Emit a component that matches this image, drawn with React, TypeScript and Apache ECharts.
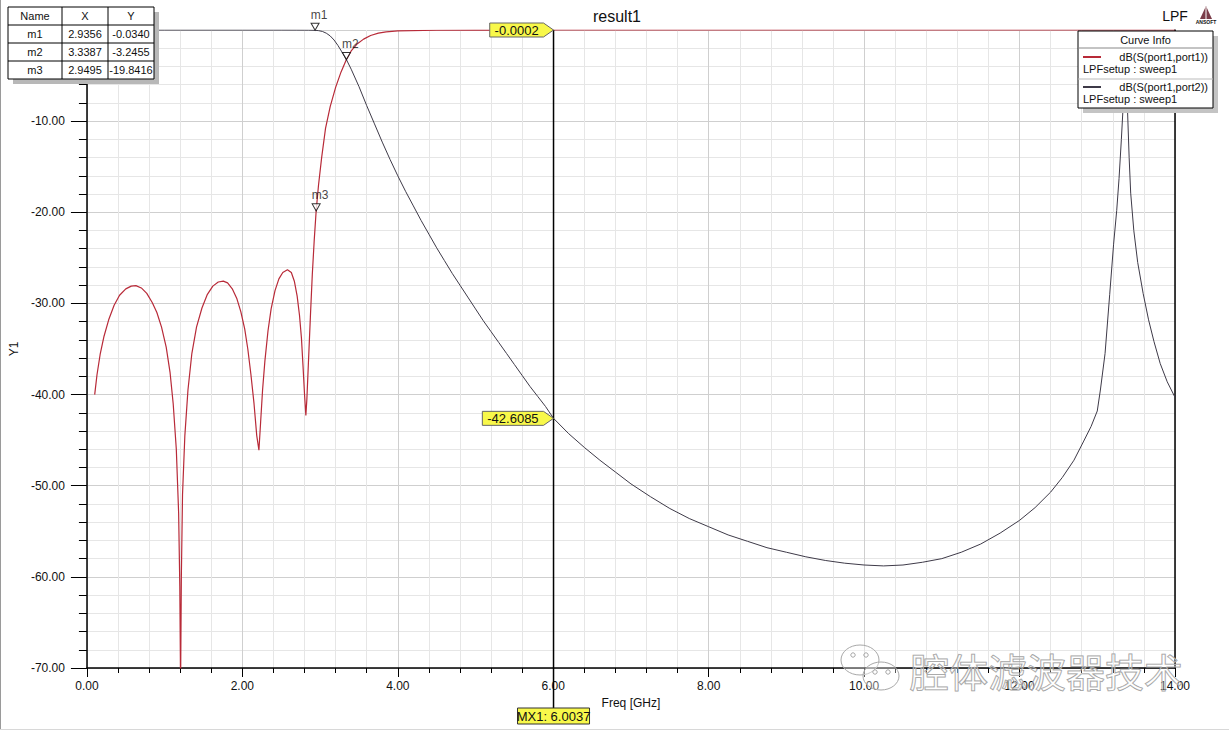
import React, { useEffect, useRef } from 'react';
import * as echarts from 'echarts';

// ---------- data ----------
const s11Freq = [0.1, 0.13, 0.17, 0.22, 0.28, 0.35, 0.42, 0.5, 0.57, 0.63, 0.7, 0.77, 0.84, 0.9, 0.96, 1.02, 1.07, 1.11, 1.15, 1.18, 1.195, 1.205, 1.215, 1.23, 1.26, 1.3, 1.35, 1.41, 1.48, 1.55, 1.62, 1.69, 1.755, 1.81, 1.87, 1.93, 1.98, 2.03, 2.07, 2.11, 2.15, 2.185, 2.213, 2.235, 2.26, 2.29, 2.33, 2.37, 2.42, 2.47, 2.52, 2.58, 2.63, 2.67, 2.705, 2.735, 2.76, 2.78, 2.8, 2.817, 2.83, 2.85, 2.875, 2.9, 2.925, 2.9495, 2.98, 3.02, 3.07, 3.13, 3.2, 3.27, 3.3387, 3.4, 3.48, 3.56, 3.65, 3.75, 3.85, 4.0, 4.5, 5.0, 6.0037, 8.0, 10.0, 12.0, 14.0];
const s11Db = [-40.0, -37.8, -35.6, -33.6, -31.8, -30.2, -29.1, -28.4, -28.1, -28.05, -28.3, -28.9, -29.9, -31.0, -32.6, -34.8, -37.6, -41.0, -46.0, -53.0, -61.0, -72.0, -60.0, -51.0, -44.5, -39.5, -35.5, -32.6, -30.5, -29.0, -28.1, -27.65, -27.55, -27.75, -28.4, -29.5, -30.9, -32.8, -35.0, -37.8, -41.0, -44.5, -46.1, -43.0, -39.5, -36.3, -33.0, -30.6, -28.6, -27.3, -26.6, -26.3, -26.6, -27.6, -29.2, -31.3, -33.8, -36.8, -40.0, -42.3, -40.5, -36.5, -31.5, -26.8, -23.0, -19.8416, -17.0, -14.0, -10.8, -8.4, -6.3, -4.6, -3.2455, -2.3, -1.5, -1.0, -0.6, -0.35, -0.2, -0.1, -0.03, -0.01, -0.0002, 0.0, 0.0, 0.0, 0.0];

const s21Freq = [0.1, 1.0, 2.0, 2.5, 2.7, 2.85, 2.9356, 2.98, 3.03, 3.08, 3.13, 3.18, 3.23, 3.28, 3.3387, 3.4, 3.5, 3.6, 3.7, 3.8, 3.9, 4.0, 4.1, 4.2, 4.3, 4.4, 4.5, 4.6, 4.7, 4.8, 4.9, 5.0, 5.1, 5.2, 5.3, 5.4, 5.5, 5.6, 5.7, 5.8, 5.9, 6.0037, 6.2, 6.4, 6.6, 6.8, 7.0, 7.25, 7.5, 7.75, 8.0, 8.25, 8.5, 8.75, 9.0, 9.25, 9.5, 9.75, 10.0, 10.25, 10.5, 10.75, 11.0, 11.25, 11.5, 11.75, 12.0, 12.2, 12.4, 12.55, 12.7, 12.82, 12.92, 13.0, 13.04, 13.1, 13.16, 13.21, 13.25, 13.28, 13.31, 13.33, 13.345, 13.355, 13.362, 13.37, 13.38, 13.39, 13.41, 13.43, 13.47, 13.52, 13.59, 13.66, 13.73, 13.81, 13.9, 14.0];
const s21Db = [-0.001, -0.002, -0.003, -0.005, -0.008, -0.015, -0.034, -0.07, -0.16, -0.35, -0.65, -1.1, -1.7, -2.4, -3.2455, -4.3, -6.2, -8.3, -10.3, -12.3, -14.2, -16.0, -17.7, -19.3, -20.9, -22.4, -23.9, -25.3, -26.7, -28.0, -29.3, -30.6, -31.9, -33.1, -34.3, -35.5, -36.7, -37.9, -39.1, -40.2, -41.3, -42.6085, -44.3, -45.8, -47.2, -48.5, -49.8, -51.2, -52.5, -53.6, -54.5, -55.4, -56.1, -56.8, -57.3, -57.8, -58.2, -58.5, -58.7, -58.8, -58.7, -58.4, -58.0, -57.3, -56.4, -55.2, -53.8, -52.4, -50.7, -49.1, -47.2, -45.2, -43.5, -41.8, -39.5, -35.5, -29.0, -23.5, -19.8, -16.3, -12.0, -8.8, -5.5, -2.5, -0.6, -2.5, -5.5, -9.0, -14.0, -17.9, -22.0, -25.5, -28.9, -31.8, -34.2, -36.6, -38.6, -40.3];

const markerNames = ['m1', 'm2', 'm3'];
const markerX = [2.9356, 3.3387, 2.9495];
const markerY = [-0.034, -3.2455, -19.8416];

const mx1Freq = 6.0037;
const mx1Values = [-0.0002, -42.6085];

const curveNames = ['dB(S(port1,port1))', 'dB(S(port1,port2))'];
const curveSetup = 'LPFsetup : sweep1';
const curveColors = ['#b82a38', '#3e3a48'];

const FONT = '"Liberation Sans", Arial, sans-serif';

function pairs(xs: number[], ys: number[]) {
  return xs.map((x, i) => [x, ys[i]]);
}

export default function App() {
  const ref = useRef<HTMLDivElement>(null);
  useEffect(() => {
    if (!ref.current) return;
    const chart = echarts.init(ref.current, null, { renderer: 'svg' });
    const axisLabelStyle = { color: '#111', fontSize: 12, fontFamily: FONT };
    chart.setOption({
      animation: false,
      backgroundColor: '#ffffff',
      grid: { left: 85, right: 54, top: 30, bottom: 64, containLabel: false },
      xAxis: {
        type: 'value', min: 0, max: 14, interval: 2,
        name: 'Freq [GHz]', nameLocation: 'middle', nameGap: 20,
        nameTextStyle: { color: '#111', fontSize: 12, fontFamily: FONT },
        axisLine: { show: true, onZero: false, lineStyle: { color: '#000', width: 1.5 } },
        axisTick: { show: true, length: 9, lineStyle: { color: '#000' } },
        minorTick: { show: true, splitNumber: 5, length: 5, lineStyle: { color: '#000' } },
        axisLabel: { ...axisLabelStyle, margin: 12, formatter: (v: number) => v.toFixed(2) },
        splitLine: { show: true, lineStyle: { color: '#cfcfcf', width: 1 } },
        minorSplitLine: { show: true, lineStyle: { color: '#e6e6e6', width: 1 } },
      },
      yAxis: [{
        type: 'value', min: -70, max: 0, interval: 10,
        name: 'Y1', nameLocation: 'middle', nameGap: 55, nameRotate: 90,
        nameTextStyle: { color: '#111', fontSize: 12, fontFamily: FONT },
        axisLine: { show: true, onZero: false, lineStyle: { color: '#000', width: 1.5 } },
        axisTick: { show: true, length: 16, lineStyle: { color: '#000' } },
        minorTick: { show: true, splitNumber: 5, length: 8, lineStyle: { color: '#000' } },
        axisLabel: { ...axisLabelStyle, margin: 22, formatter: (v: number) => v.toFixed(2) },
        splitLine: { show: true, lineStyle: { color: '#cfcfcf', width: 1 } },
        minorSplitLine: { show: true, lineStyle: { color: '#e6e6e6', width: 1 } },
      }, {
        type: 'value', min: -70, max: 0, position: 'right',
        axisLine: { show: true, onZero: false, lineStyle: { color: '#000', width: 1.5 } },
        axisTick: { show: false }, axisLabel: { show: false }, splitLine: { show: false },
      }],
      series: [
        {
          name: curveNames[0], type: 'line', data: pairs(s11Freq, s11Db), showSymbol: false,
          lineStyle: { color: curveColors[0], width: 1.2 }, z: 3,
        },
        {
          name: curveNames[1], type: 'line', data: pairs(s21Freq, s21Db), showSymbol: false,
          lineStyle: { color: curveColors[1], width: 1 }, z: 4,
        },
        {
          name: 'markers', type: 'scatter', z: 6,
          data: markerX.map((x, i) => ({ value: [x, markerY[i]], name: markerNames[i] })),
          symbol: 'path://M0,0L10,0L5,8Z', symbolSize: [8, 7], symbolOffset: [0, -3.5],
          itemStyle: { color: '#fff', borderColor: '#000', borderWidth: 1 },
          label: {
            show: true, position: 'top', distance: 2, offset: [4, 0],
            formatter: (p: any) => p.name, color: '#111', fontSize: 12, fontFamily: FONT,
          },
        },
      ],
    });

    const px = (x: number, y: number) => chart.convertToPixel({ gridIndex: 0 }, [x, y]) as number[];
    const g: any[] = [];
    const txt = (text: string, x: number, y: number, size: number, align = 'left', extra: any = {}) => ({
      type: 'text', z: 101,
      style: { text, x, y, fill: '#111', font: `${size}px ${FONT}`, fontSize: size, fontFamily: FONT,
        textAlign: align, align, textVerticalAlign: 'middle', verticalAlign: 'middle', ...extra },
    });

    // title texts
    g.push(txt('result1', 617, 16, 16, 'center'));
    g.push(txt('LPF', 1175, 16, 14, 'center'));
    // ANSOFT logo
    g.push({ type: 'polygon', z: 101, shape: { points: [[1206, 6], [1200, 19], [1212, 19]] }, style: { fill: '#7a3c48' } });
    g.push({ type: 'line', z: 102, shape: { x1: 1206, y1: 7, x2: 1206, y2: 19 }, style: { stroke: '#fff', lineWidth: 1 } });
    g.push(txt('ANSOFT', 1206, 22, 5, 'center', { fontWeight: 'bold' }));

    // marker table
    const tx = [8, 62, 108, 154];
    const ty0 = 7, rh = 18;
    g.push({ type: 'rect', z: 100, shape: { x: tx[0] + 5, y: ty0 + 5, width: tx[3] - tx[0], height: rh * 4 }, style: { fill: '#b8b8b8' } });
    g.push({ type: 'rect', z: 100, shape: { x: tx[0], y: ty0, width: tx[3] - tx[0], height: rh * 4 }, style: { fill: '#fff', stroke: '#000', lineWidth: 1 } });
    for (let r = 1; r < 4; r++) g.push({ type: 'line', z: 101, shape: { x1: tx[0], y1: ty0 + r * rh, x2: tx[3], y2: ty0 + r * rh }, style: { stroke: '#000', lineWidth: 1 } });
    for (let c = 1; c < 3; c++) g.push({ type: 'line', z: 101, shape: { x1: tx[c], y1: ty0, x2: tx[c], y2: ty0 + 4 * rh }, style: { stroke: '#000', lineWidth: 1 } });
    const header = ['Name', 'X', 'Y'];
    header.forEach((h, c) => g.push(txt(h, (tx[c] + tx[c + 1]) / 2, ty0 + rh / 2, 11, 'center')));
    markerNames.forEach((n, i) => {
      const cy = ty0 + rh * (i + 1) + rh / 2;
      g.push(txt(n, (tx[0] + tx[1]) / 2, cy, 11, 'center'));
      g.push(txt(markerX[i].toFixed(4), (tx[1] + tx[2]) / 2, cy, 11, 'center'));
      g.push(txt(markerY[i].toFixed(4), (tx[2] + tx[3]) / 2, cy, 11, 'center'));
    });

    // curve info legend
    const lx = 1078, ly = 31, lw = 135, lh = 77;
    g.push({ type: 'rect', z: 100, shape: { x: lx + 5, y: ly + 5, width: lw, height: lh }, style: { fill: '#c4c4c4' } });
    g.push({ type: 'rect', z: 100, shape: { x: lx, y: ly, width: lw, height: lh }, style: { fill: '#fff', stroke: '#000', lineWidth: 1 } });
    g.push(txt('Curve Info', lx + lw / 2, ly + 9, 11, 'center'));
    g.push({ type: 'line', z: 101, shape: { x1: lx, y1: ly + 17, x2: lx + lw, y2: ly + 17 }, style: { stroke: '#888', lineWidth: 1 } });
    g.push({ type: 'line', z: 101, shape: { x1: lx, y1: ly + 48, x2: lx + lw, y2: ly + 48 }, style: { stroke: '#bbb', lineWidth: 1 } });
    curveNames.forEach((n, i) => {
      const y1 = ly + 26 + i * 30;
      g.push({ type: 'line', z: 101, shape: { x1: lx + 5, y1, x2: lx + 23, y2: y1 }, style: { stroke: curveColors[i], lineWidth: 2 } });
      g.push(txt(n, lx + lw - 5, y1, 11, 'right'));
      g.push(txt(curveSetup, lx + 5, y1 + 12, 11, 'left'));
    });

    // MX1 marker line and yellow labels
    const top = px(mx1Freq, 0);
    const bot = px(mx1Freq, -70);
    const mxX = top[0];
    g.push({ type: 'line', z: 50, shape: { x1: mxX, y1: top[1], x2: mxX, y2: bot[1] + 40 }, style: { stroke: '#000', lineWidth: 1.5 } });
    mx1Values.forEach((v) => {
      const p = px(mx1Freq, v);
      const label = v.toFixed(4);
      const w = label.length * 7.4 + 12;
      const h = 14;
      g.push({
        type: 'polygon', z: 60,
        shape: { points: [[mxX - w, p[1] - h / 2], [mxX - 10, p[1] - h / 2], [mxX, p[1]], [mxX - 10, p[1] + h / 2], [mxX - w, p[1] + h / 2]] },
        style: { fill: '#f8f84a', stroke: '#666', lineWidth: 1 },
      });
      g.push(txt(label, mxX - 5 - w / 2, p[1], 13, 'center'));
    });
    const mxLabel = 'MX1: ' + mx1Freq.toFixed(4);
    g.push({ type: 'rect', z: 60, shape: { x: mxX - 36, y: bot[1] + 40, width: 72, height: 16 }, style: { fill: '#f8f84a', stroke: '#333', lineWidth: 1 } });
    g.push(txt(mxLabel, mxX, bot[1] + 48, 13, 'center'));

    // watermark
    const wm = { fill: 'rgba(255,255,255,0.35)', stroke: '#a8a8a8', lineWidth: 1 };
    g.push({ type: 'ellipse', z: 90, shape: { cx: 860, cy: 660, rx: 19, ry: 15 }, style: wm });
    g.push({ type: 'ellipse', z: 91, shape: { cx: 881, cy: 676, rx: 18, ry: 14 }, style: wm });
    [[853, 655], [866, 655], [875, 672], [888, 672]].forEach(([cx, cy]) =>
      g.push({ type: 'circle', z: 92, shape: { cx, cy, r: 2.2 }, style: { fill: 'none', stroke: '#a8a8a8', lineWidth: 1 } }));
    g.push(txt('腔体滤波器技术', 910, 670, 39, 'left', {
      font: `39px "Noto Sans CJK SC"`, fontFamily: '"Noto Sans CJK SC"', fill: 'rgba(255,255,255,0.3)', stroke: '#9c9c9c', lineWidth: 1,
    }));

    // outer frame
    g.push({ type: 'line', z: 1, shape: { x1: 0.5, y1: 0, x2: 0.5, y2: 729 }, style: { stroke: '#9a9a9a', lineWidth: 1 } });
    g.push({ type: 'line', z: 1, shape: { x1: 0, y1: 729.5, x2: 1229, y2: 729.5 }, style: { stroke: '#d8d8d8', lineWidth: 1 } });

    chart.setOption({ graphic: g });
    return () => chart.dispose();
  }, []);
  return <div ref={ref} style={{ position: 'absolute', left: 0, top: 0, width: 1229, height: 732 }} />;
}
